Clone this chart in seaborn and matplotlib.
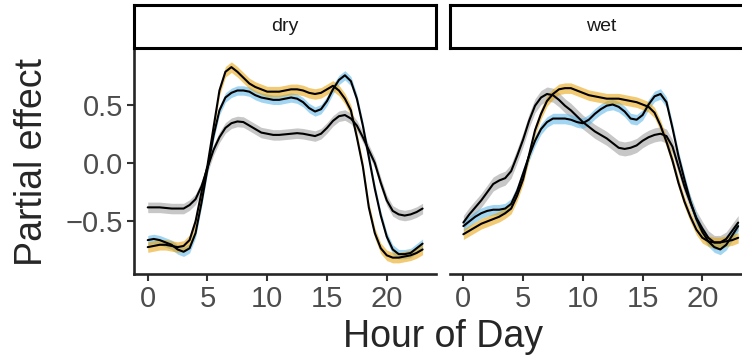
import pandas as pd
import seaborn as sns
import matplotlib.pyplot as plt

# half-hourly partial effects (hour 0 .. 23)
HOURS = [i / 2 for i in range(47)]
PANELS = ["dry", "wet"]
SERIES = ["grey", "blue", "orange"]

dry_grey = [-0.38, -0.38, -0.38, -0.385, -0.39, -0.39, -0.39, -0.36, -0.31, -0.20,
            -0.04, 0.11, 0.22, 0.30, 0.34, 0.355, 0.35, 0.32, 0.29, 0.26,
            0.25, 0.24, 0.24, 0.245, 0.25, 0.255, 0.25, 0.24, 0.23, 0.25,
            0.30, 0.36, 0.40, 0.41, 0.38, 0.32, 0.22, 0.11, 0.00, -0.17,
            -0.32, -0.41, -0.44, -0.45, -0.44, -0.42, -0.39]
dry_blue = [-0.66, -0.65, -0.66, -0.68, -0.70, -0.74, -0.76, -0.73, -0.60, -0.34,
            -0.05, 0.23, 0.45, 0.56, 0.60, 0.62, 0.62, 0.61, 0.58, 0.56,
            0.55, 0.54, 0.54, 0.55, 0.56, 0.55, 0.52, 0.47, 0.44, 0.46,
            0.53, 0.63, 0.71, 0.75, 0.70, 0.55, 0.32, 0.05, -0.22, -0.45,
            -0.63, -0.74, -0.78, -0.78, -0.77, -0.73, -0.69]
dry_orange = [-0.72, -0.71, -0.70, -0.70, -0.71, -0.72, -0.71, -0.66, -0.50, -0.25,
              -0.02, 0.30, 0.62, 0.78, 0.82, 0.78, 0.73, 0.68, 0.65, 0.63,
              0.61, 0.61, 0.61, 0.62, 0.63, 0.63, 0.62, 0.60, 0.59, 0.60,
              0.63, 0.66, 0.62, 0.55, 0.45, 0.22, -0.03, -0.38, -0.60, -0.73,
              -0.79, -0.81, -0.81, -0.80, -0.79, -0.77, -0.74]

wet_grey = [-0.51, -0.44, -0.38, -0.32, -0.25, -0.18, -0.15, -0.13, -0.07, 0.06,
            0.20, 0.36, 0.49, 0.56, 0.59, 0.58, 0.54, 0.49, 0.45, 0.40,
            0.35, 0.31, 0.27, 0.24, 0.21, 0.17, 0.13, 0.12, 0.13, 0.15,
            0.19, 0.22, 0.24, 0.25, 0.23, 0.14, -0.03, -0.20, -0.34, -0.47,
            -0.56, -0.64, -0.68, -0.68, -0.65, -0.58, -0.51]
wet_blue = [-0.54, -0.50, -0.46, -0.43, -0.41, -0.40, -0.40, -0.39, -0.35, -0.24,
            -0.09, 0.06, 0.19, 0.29, 0.35, 0.38, 0.38, 0.38, 0.37, 0.35,
            0.34, 0.37, 0.42, 0.46, 0.49, 0.50, 0.48, 0.44, 0.38, 0.37,
            0.41, 0.50, 0.57, 0.59, 0.52, 0.30, 0.06, -0.14, -0.33, -0.48,
            -0.59, -0.67, -0.72, -0.74, -0.70, -0.62, -0.54]
wet_orange = [-0.61, -0.58, -0.55, -0.52, -0.50, -0.48, -0.46, -0.43, -0.39, -0.28,
              -0.14, 0.07, 0.28, 0.42, 0.53, 0.59, 0.63, 0.64, 0.64, 0.62,
              0.60, 0.58, 0.57, 0.56, 0.55, 0.55, 0.55, 0.54, 0.53, 0.52,
              0.50, 0.48, 0.43, 0.32, 0.18, 0.02, -0.17, -0.33, -0.46, -0.57,
              -0.64, -0.67, -0.68, -0.68, -0.67, -0.66, -0.64]

# ribbon half widths (grey, blue, orange)
dry_se = [0.045, 0.04, 0.045]
wet_se = [0.06, 0.045, 0.045]

ribbon_colors = {"grey": "#999999", "blue": "#56B4E9", "orange": "#E69F00"}

rows = []
for panel, vals, ses in [("dry", [dry_grey, dry_blue, dry_orange], dry_se),
                         ("wet", [wet_grey, wet_blue, wet_orange], wet_se)]:
    for s, v, se in zip(SERIES, vals, ses):
        for h, y in zip(HOURS, v):
            rows.append({"panel": panel, "series": s, "hour": h, "fit": y,
                         "lo": y - se, "hi": y + se})
df = pd.DataFrame(rows)

sns.set_theme(style="ticks")
plt.rcParams["font.family"] = ["Liberation Sans", "DejaVu Sans"]

W, H = 742, 362
fig = plt.figure(figsize=(W / 100, H / 100), dpi=100)

px_per_h = 11.95
panel_w = 25.3 * px_per_h
lefts = [134.0, 449.6]
ax_bottom, ax_top = 274, 49
strip_top, strip_bot = 5, 48

for i, panel in enumerate(PANELS):
    ax = fig.add_axes([lefts[i] / W, (H - ax_bottom) / H, panel_w / W, (ax_bottom - ax_top) / H])
    sub = df[df["panel"] == panel]
    # ribbons first, then all fitted lines on top
    for s in SERIES:
        d = sub[sub["series"] == s]
        ax.fill_between(d["hour"], d["lo"], d["hi"], color=ribbon_colors[s], alpha=0.55, lw=0)
    for s in SERIES:
        d = sub[sub["series"] == s]
        sns.lineplot(data=d, x="hour", y="fit", color="black", lw=1.5, ax=ax)
    ax.set_xlim(-1.15, 24.15)
    ax.set_ylim(-0.95, 0.975)
    ax.set_xticks([0, 5, 10, 15, 20])
    ax.set_yticks([-0.5, 0.0, 0.5])
    ax.set_xlabel("")
    ax.set_ylabel("")
    ax.tick_params(labelsize=21, labelcolor="#4d4d4d", width=1.5, length=5, color="#333333", pad=3)
    for sp in ["top", "right"]:
        ax.spines[sp].set_visible(False)
    ax.spines["bottom"].set_linewidth(1.9)
    ax.spines["left"].set_linewidth(1.9)
    if i == 1:
        ax.spines["left"].set_visible(False)
        ax.tick_params(axis="y", left=False, labelleft=False)

    # facet strip
    sax = fig.add_axes([lefts[i] / W, (H - strip_bot) / H, panel_w / W, (strip_bot - strip_top) / H])
    sax.set_xticks([])
    sax.set_yticks([])
    for sp in sax.spines.values():
        sp.set_linewidth(2.2)
        sp.set_color("black")
    sax.text(0.5, 0.5, panel, ha="center", va="center", fontsize=14, color="#1a1a1a",
             transform=sax.transAxes)

fig.text((134 + 752) / 2 / W, 1 - 337 / H, "Hour of Day", ha="center", va="center", fontsize=27)
fig.text(32 / W, 1 - 162 / H, "Partial effect", ha="center", va="center", rotation=90, fontsize=27)

fig.savefig("out.png", dpi=100)
